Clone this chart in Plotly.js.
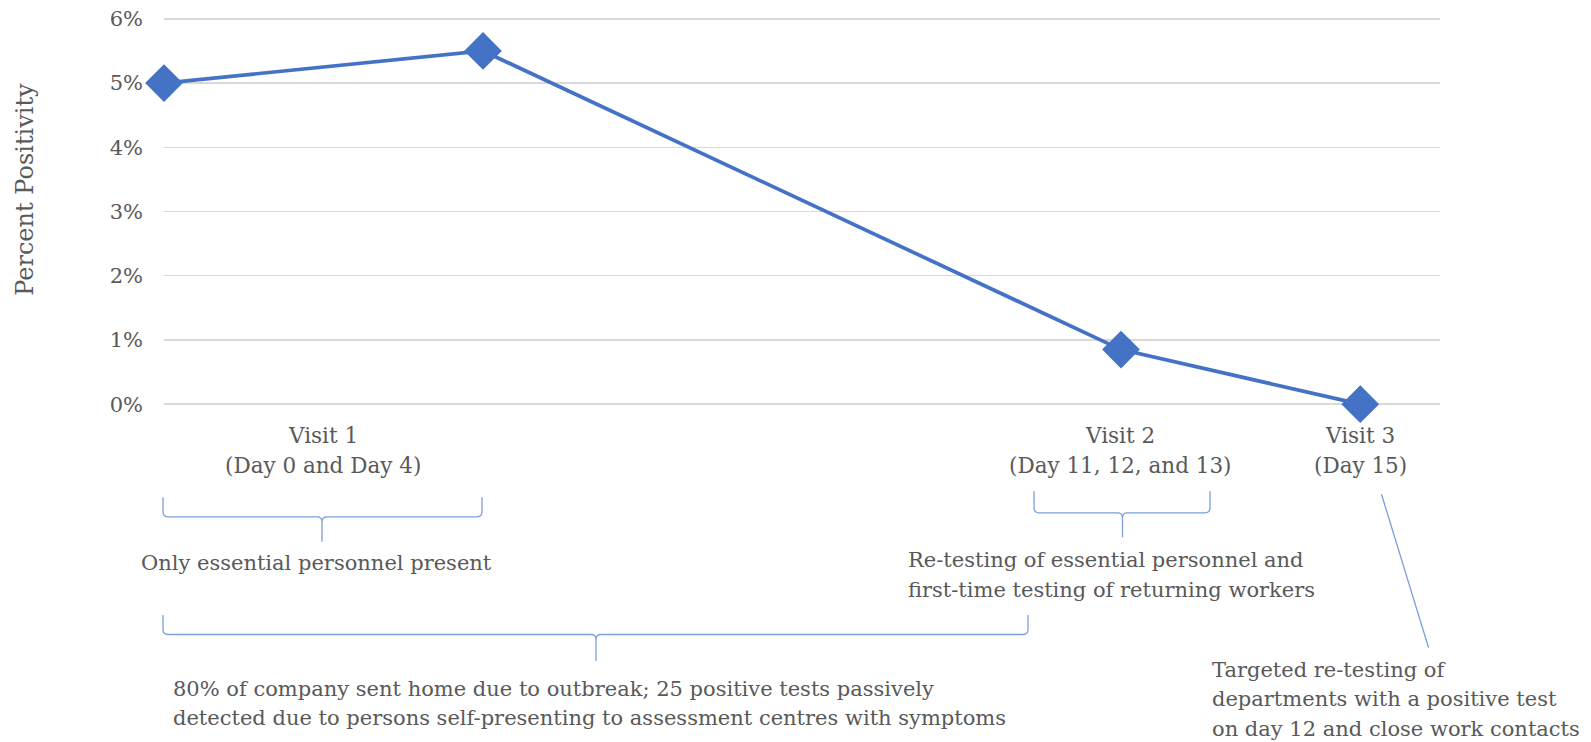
<!DOCTYPE html>
<html>
<head>
<meta charset="utf-8">
<script src="https://cdn.plot.ly/plotly-3.0.1.min.js"></script>
<style>html,body{margin:0;padding:0;background:#fff;}#chart{width:1591px;height:742px;}</style>
</head>
<body>
<div id="chart"></div>
<script>
// ---- data ----
const days = [0, 4, 12, 15];
const positivity = [5.0, 5.5, 0.85, 0.0];
const yTicks = [0, 1, 2, 3, 4, 5, 6];
const yTickLabels = ["0%", "1%", "2%", "3%", "4%", "5%", "6%"];
const yTitle = "Percent Positivity";
const visitLabels = [
  ["Visit 1", "(Day 0 and Day 4)"],
  ["Visit 2", "(Day 11, 12, and 13)"],
  ["Visit 3", "(Day 15)"]
];
const noteEssential = ["Only essential personnel present"];
const noteRetest = ["Re-testing of essential personnel and", "first-time testing of returning workers"];
const noteCompany = ["80% of company sent home due to outbreak; 25 positive tests passively",
                     "detected due to persons self-presenting to assessment centres with symptoms"];
const noteTargeted = ["Targeted re-testing of", "departments with a positive test", "on day 12 and close work contacts"];

// ---- layout helpers (pixel -> paper) ----
const W = 1591, H = 742;
const Y0PX = 404, Y6PX = 19.3;            // pixel rows of 0% and 6%
const UNIT = (Y0PX - Y6PX) / 6;           // px per 1%
const PAD = 0.06;                          // keep end gridlines inside the plot
const L = 164, R = 1440;
const B = Y0PX + PAD * UNIT, T = Y6PX - PAD * UNIT;
const PX = px => (px - L) / (R - L);
const PY = py => (B - py) / (B - T);

const FONT = "DejaVu Serif, Georgia, serif";
const TXT = "#595959";
const BR = "#7b9fdc";
const FS = 21;

const annotations = [];
function txt(text, px, py, anchor, size) {
  annotations.push({
    text: text, xref: "paper", yref: "paper", x: PX(px), y: PY(py),
    xanchor: anchor || "center", yanchor: "middle", showarrow: false,
    font: {family: FONT, size: size || FS, color: TXT}
  });
}
const visitX = [323, 1120, 1360];
visitLabels.forEach((lines, i) => {
  txt(lines[0], visitX[i], 435, "center", 21.5);
  txt(lines[1], visitX[i], 465, "center", 21.5);
});
txt(noteEssential[0], 316, 563);
noteRetest.forEach((s, i) => txt(s, 906, 560 + i * 30, "left"));
noteCompany.forEach((s, i) => txt(s, 171, 688 + i * 29, "left"));
noteTargeted.forEach((s, i) => txt(s, 1210, 669 + i * 29.5, "left"));

annotations.push({
  text: yTitle, xref: "paper", yref: "paper", x: PX(25), y: PY(190),
  xanchor: "center", yanchor: "middle", showarrow: false, textangle: -90,
  font: {family: FONT, size: 24, color: TXT}
});

function P(px, py) { return PX(px).toFixed(5) + "," + PY(py).toFixed(5); }
function brace(x0, x1, mid, top, h, bot) {
  const r = 5;
  return "M" + P(x0, top) +
    " L" + P(x0, h - r) + " Q" + P(x0, h) + " " + P(x0 + r, h) +
    " L" + P(mid - r, h) + " Q" + P(mid, h) + " " + P(mid, h + r) +
    " L" + P(mid, bot) +
    " M" + P(mid, h + r) + " Q" + P(mid, h) + " " + P(mid + r, h) +
    " L" + P(x1 - r, h) + " Q" + P(x1, h) + " " + P(x1, h - r) +
    " L" + P(x1, top);
}
const shapes = [
  {type: "path", xref: "paper", yref: "paper", path: brace(163, 482, 322, 497, 516.5, 541.5), line: {color: BR, width: 1.3}},
  {type: "path", xref: "paper", yref: "paper", path: brace(1034, 1210, 1122.5, 491, 512.5, 537), line: {color: BR, width: 1.3}},
  {type: "path", xref: "paper", yref: "paper", path: brace(163, 1028, 596, 614.5, 634, 660.5), line: {color: BR, width: 1.3}},
  {type: "line", xref: "paper", yref: "paper", x0: PX(1381.5), y0: PY(494), x1: PX(1428.5), y1: PY(647), line: {color: BR, width: 1.3}}
];

const trace = {
  x: days, y: positivity, type: "scatter", mode: "lines+markers",
  line: {color: "#4472C4", width: 3.7},
  marker: {symbol: "diamond", size: 29, color: "#4472C4"},
  cliponaxis: false, hoverinfo: "skip"
};

const layout = {
  width: W, height: H,
  margin: {l: L, r: W - R, t: T, b: H - B, pad: 0},
  paper_bgcolor: "#fff", plot_bgcolor: "#fff",
  showlegend: false,
  xaxis: {range: [0, 16], visible: false, fixedrange: true},
  yaxis: {
    range: [-PAD, 6 + PAD], tickvals: yTicks, ticktext: yTickLabels,
    showgrid: true, gridcolor: "#d9d9d9", gridwidth: 1.5,
    zeroline: false, showline: false, ticks: "",
    ticklabelstandoff: 20,
    tickfont: {family: FONT, size: 21, color: TXT}
  },
  annotations: annotations,
  shapes: shapes
};

Plotly.newPlot("chart", [trace], layout, {displayModeBar: false, staticPlot: true});
</script>
</body>
</html>
